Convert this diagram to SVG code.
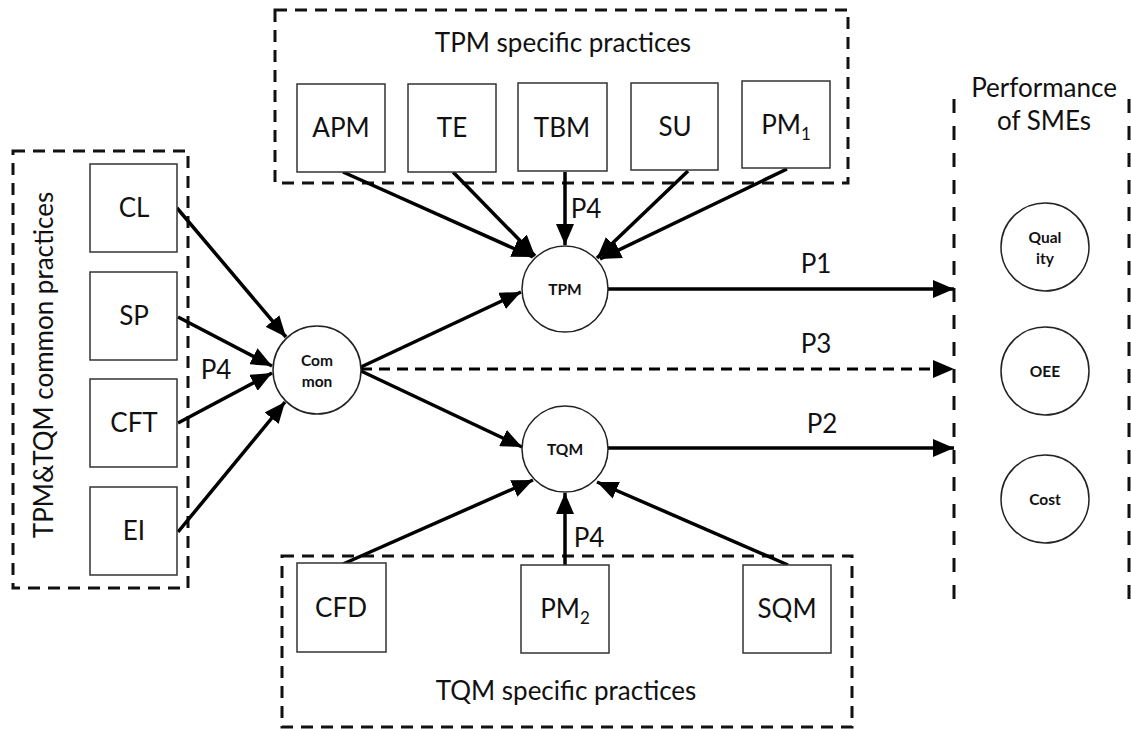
<svg xmlns="http://www.w3.org/2000/svg" width="1131" height="729" viewBox="0 0 1131 729">
<defs>
<style>
text{font-family:Lato,"Liberation Sans",sans-serif;fill:#111;}
.lbl{font-size:26px;text-anchor:middle;}
.sm{font-size:15.5px;font-weight:bold;text-anchor:middle;}
.box{fill:#fff;stroke:#333;stroke-width:1.5;}
.circ{fill:#fff;stroke:#222;stroke-width:1.5;}
.grp{fill:none;stroke:#111;stroke-width:3;stroke-dasharray:12 8;}
.col{fill:none;stroke:#111;stroke-width:3;stroke-dasharray:14 13;}
.arr{fill:none;stroke:#000;stroke-width:3.5;marker-end:url(#ah);}
.dash{stroke-dasharray:11 7;stroke-width:3;}
</style>
<marker id="ah" markerUnits="userSpaceOnUse" markerWidth="22" markerHeight="18" refX="21" refY="9" orient="auto">
<path d="M0,0 L21,9 L0,18 Z" fill="#000"/>
</marker>
</defs>
<rect width="1131" height="729" fill="#fff"/>

<g id="group-tpm">
<rect class="grp" x="275" y="10" width="573" height="173"/>
<text class="lbl" x="563" y="52">TPM specific practices</text>
</g>
<g id="group-common">
<rect class="grp" x="13" y="151" width="175" height="437"/>
<text class="lbl" transform="translate(53,365) rotate(-90)">TPM&amp;TQM common practices</text>
</g>
<g id="group-tqm">
<rect class="grp" x="282" y="556" width="570" height="171"/>
<text class="lbl" x="566" y="700">TQM specific practices</text>
</g>
<g id="group-performance">
<line class="col" x1="954" y1="99" x2="954" y2="610"/>
<line class="col" x1="1129" y1="99" x2="1129" y2="610"/>
<text class="lbl" x="1044" y="97">Performance</text>
<text class="lbl" x="1044" y="130">of SMEs</text>
</g>

<g id="connectors">
<line class="arr" x1="343" y1="172" x2="533" y2="257"/>
<line class="arr" x1="453" y1="172" x2="535" y2="256"/>
<line class="arr" x1="565" y1="172" x2="565" y2="245"/>
<line class="arr" x1="688" y1="171" x2="597" y2="258"/>
<line class="arr" x1="787" y1="169" x2="600" y2="259"/>
<line class="arr" x1="177" y1="208" x2="286" y2="337"/>
<line class="arr" x1="178" y1="317" x2="272" y2="366"/>
<line class="arr" x1="178" y1="423" x2="272" y2="373"/>
<line class="arr" x1="178" y1="532" x2="285" y2="402"/>
<line class="arr" x1="361" y1="367" x2="521" y2="292"/>
<line class="arr" x1="361" y1="371" x2="522" y2="447"/>
<line class="arr dash" x1="361" y1="369" x2="954" y2="369"/>
<line class="arr" x1="608" y1="289" x2="954" y2="289"/>
<line class="arr" x1="608" y1="448" x2="954" y2="448"/>
<line class="arr" x1="343" y1="564" x2="533" y2="480"/>
<line class="arr" x1="565" y1="565" x2="565" y2="493"/>
<line class="arr" x1="788" y1="565" x2="597" y2="482"/>
<text class="lbl" x="216" y="379">P4</text>
<text class="lbl" x="586" y="218">P4</text>
<text class="lbl" x="589" y="547">P4</text>
<text class="lbl" x="816" y="273">P1</text>
<text class="lbl" x="816" y="353">P3</text>
<text class="lbl" x="822" y="433">P2</text>
</g>

<g id="node-apm"><rect class="box" x="297" y="84" width="88" height="88"/><text class="lbl" x="341" y="137">APM</text></g>
<g id="node-te"><rect class="box" x="408" y="84" width="88" height="88"/><text class="lbl" x="452" y="137">TE</text></g>
<g id="node-tbm"><rect class="box" x="518" y="83" width="89" height="88"/><text class="lbl" x="562" y="137">TBM</text></g>
<g id="node-su"><rect class="box" x="631" y="83" width="87" height="87"/><text class="lbl" x="675" y="136">SU</text></g>
<g id="node-pm1"><rect class="box" x="742" y="81" width="88" height="87"/><text class="lbl" x="786" y="134">PM<tspan font-size="17" dy="6">1</tspan></text></g>

<g id="node-cl"><rect class="box" x="90" y="164" width="87" height="88"/><text class="lbl" x="134" y="217">CL</text></g>
<g id="node-sp"><rect class="box" x="90" y="272" width="87" height="88"/><text class="lbl" x="134" y="325">SP</text></g>
<g id="node-cft"><rect class="box" x="90" y="379" width="87" height="88"/><text class="lbl" x="134" y="432">CFT</text></g>
<g id="node-ei"><rect class="box" x="90" y="487" width="87" height="88"/><text class="lbl" x="134" y="540">EI</text></g>

<g id="node-cfd"><rect class="box" x="297" y="563" width="89" height="89"/><text class="lbl" x="341" y="617">CFD</text></g>
<g id="node-pm2"><rect class="box" x="521" y="565" width="88" height="88"/><text class="lbl" x="565" y="618">PM<tspan font-size="17" dy="6">2</tspan></text></g>
<g id="node-sqm"><rect class="box" x="743" y="565" width="88" height="88"/><text class="lbl" x="787" y="618">SQM</text></g>

<g id="node-common"><circle class="circ" cx="317" cy="370" r="44"/><text class="sm" x="317" y="366">Com</text><text class="sm" x="317" y="387">mon</text></g>
<g id="node-tpm"><circle class="circ" cx="565" cy="289" r="43"/><text class="sm" x="565" y="295">TPM</text></g>
<g id="node-tqm"><circle class="circ" cx="565" cy="449" r="43"/><text class="sm" x="565" y="455">TQM</text></g>

<g id="node-quality"><circle class="circ" cx="1045" cy="247" r="44"/><text class="sm" x="1045" y="243">Qual</text><text class="sm" x="1045" y="264">ity</text></g>
<g id="node-oee"><circle class="circ" cx="1045" cy="371" r="44"/><text class="sm" x="1045" y="377">OEE</text></g>
<g id="node-cost"><circle class="circ" cx="1045" cy="499" r="44"/><text class="sm" x="1045" y="505">Cost</text></g>
</svg>
